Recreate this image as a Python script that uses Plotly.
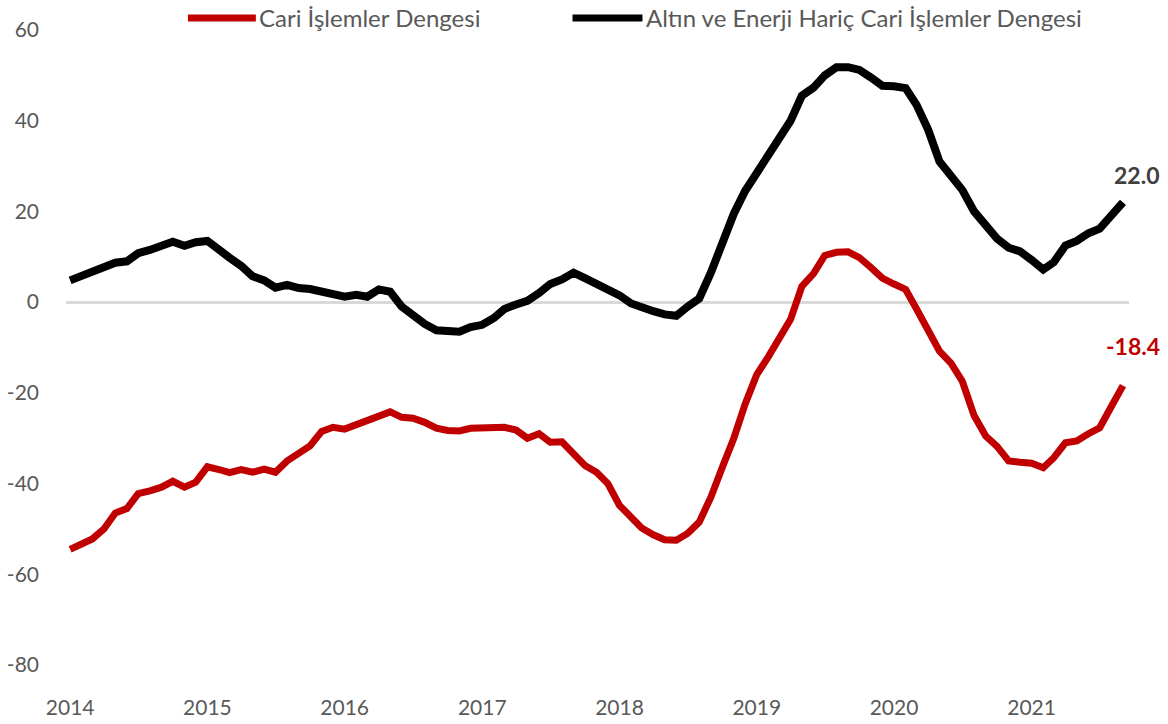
import pandas as pd
import plotly.graph_objects as go

months = pd.date_range("2014-01-01", periods=93, freq="MS")

name_total = "Cari İşlemler Dengesi"
name_core = "Altın ve Enerji Hariç Cari İşlemler Dengesi"

current_account = [
    -54.5, -53.3, -52.2, -50.0, -46.5, -45.5, -42.2, -41.6, -40.8, -39.5, -40.8, -39.7,
    -36.3, -36.9, -37.6, -36.9, -37.5, -36.8, -37.5, -35.0, -33.3, -31.7, -28.5, -27.6,
    -28.0, -27.0, -26.0, -25.2, -24.2, -25.4, -25.6, -26.5, -27.8, -28.3, -28.4, -27.8,
    -27.8, -27.9, -27.6, -28.2, -30.0, -29.0, -30.9, -30.8, -33.5, -36.0, -37.5, -40.0,
    -44.8, -47.5, -49.8, -51.3, -52.4, -52.5, -51.0, -48.5, -43.0, -36.5, -30.0, -22.5,
    -16.0, -12.0, -8.0, -3.8, 3.5, 6.3, 10.3, 11.0, 11.1, 9.8, 7.6, 5.3,
    4.0, 2.8, -1.5, -6.0, -10.8, -13.5, -17.5, -25.0, -29.5, -31.8, -35.0, -35.3,
    -35.5, -36.5, -34.3, -31.0, -30.6, -29.0, -27.7, -23.0, -18.4,
]

core_balance = [
    4.8, 5.8, 6.4, 7.3, 8.7, 9.0, 10.8, 11.5, 12.6, 13.3, 12.4, 13.2,
    13.5, 11.8, 9.8, 8.0, 5.7, 4.8, 3.2, 3.8, 3.1, 2.9, 2.4, 1.8,
    1.2, 1.6, 1.2, 2.8, 2.3, -1.0, -3.0, -4.8, -6.2, -6.5, -6.5, -5.5,
    -5.0, -3.5, -1.5, -0.5, 0.3, 2.0, 4.0, 5.0, 6.5, 5.3, 4.0, 3.0,
    1.5, -0.3, -1.3, -2.0, -2.7, -3.0, -1.0, 0.8, 6.5, 13.5, 19.5, 24.5,
    28.5, 32.0, 35.5, 40.0, 45.5, 47.3, 50.0, 51.8, 51.8, 51.2, 49.5, 47.7,
    47.6, 47.2, 43.5, 38.0, 31.0, 28.0, 24.7, 20.0, 17.0, 14.0, 12.0, 11.2,
    9.3, 7.2, 8.8, 12.5, 13.5, 15.2, 16.2, 19.0, 22.0,
]

year_ticks = pd.date_range("2014-01-01", periods=8, freq="YS")
year_labels = [str(d.year) for d in year_ticks]
y_ticks = [-80, -60, -40, -20, 0, 20, 40, 60]
y_labels = [str(v) for v in y_ticks]

RED = "#C00000"
BLACK = "#000000"
GREY_TXT = "#595959"
FONT = "Lato, 'Open Sans', sans-serif"

fig = go.Figure()
fig.add_trace(go.Scatter(x=months, y=core_balance, mode="lines", name=name_core,
                         line=dict(color=BLACK, width=8), showlegend=False))
fig.add_trace(go.Scatter(x=months, y=current_account, mode="lines", name=name_total,
                         line=dict(color=RED, width=7), showlegend=False))

# end-value labels
fig.add_annotation(x=months[-1], y=core_balance[-1], text=f"<b>{core_balance[-1]:.1f}</b>",
                   showarrow=False, yshift=27, xshift=14,
                   font=dict(family=FONT, size=23, color="#404040"))
fig.add_annotation(x=months[-1], y=current_account[-1], text=f"<b>{current_account[-1]:.1f}</b>",
                   showarrow=False, yshift=40, xshift=10,
                   font=dict(family=FONT, size=23, color=RED))

# manual legend
leg_y = 1.019
for (x0, x1, color, label) in [
    (0.1147, 0.1786, RED, name_total),
    (0.4765, 0.5423, BLACK, name_core),
]:
    fig.add_shape(type="line", xref="paper", yref="paper", x0=x0, x1=x1, y0=leg_y, y1=leg_y,
                  line=dict(color=color, width=7))
    fig.add_annotation(xref="paper", yref="paper", x=x1 + 0.001, y=leg_y, text=label,
                       xanchor="left", yanchor="middle", showarrow=False,
                       font=dict(family=FONT, size=24, color=GREY_TXT))

fig.update_layout(
    width=1168, height=724,
    margin=dict(l=66, r=39, t=30, b=59),
    paper_bgcolor="white", plot_bgcolor="white",
    font=dict(family=FONT, size=21, color=GREY_TXT),
    showlegend=False,
)
fig.update_xaxes(
    range=["2013-12-21", "2021-09-17"],
    tickmode="array", tickvals=year_ticks, ticktext=year_labels,
    showgrid=False, zeroline=False, showline=False, ticks="",
    ticklabelstandoff=28, automargin=False,
    tickfont=dict(family=FONT, size=21, color=GREY_TXT),
)
fig.update_yaxes(
    range=[-80, 60], tickmode="array", tickvals=y_ticks, ticktext=y_labels,
    showgrid=False, zeroline=True, zerolinecolor="#D9D9D9", zerolinewidth=3,
    showline=False, ticks="", ticklabelstandoff=26, automargin=False,
    tickfont=dict(family=FONT, size=21, color=GREY_TXT),
)

fig.write_html("out.html",
               config={"displayModeBar": False},
               post_script="document.body.style.margin='0';document.body.style.overflow='hidden';")
